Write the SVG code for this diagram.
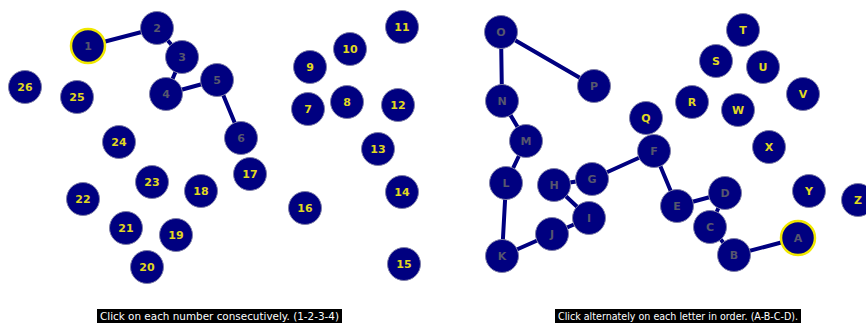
<svg xmlns="http://www.w3.org/2000/svg" width="866" height="323" viewBox="0 0 866 323">
<style>
.n circle{fill:#000080;stroke:#8080a8;stroke-width:1}
.n text{font-family:"DejaVu Sans",sans-serif;font-weight:bold;font-size:11px;text-anchor:middle;dominant-baseline:central;fill:#e0d820}
.v text{fill:#56566e}
.sel circle{stroke:#f0e800;stroke-width:2.5}
#edges line{stroke:#000080;stroke-width:4;stroke-linecap:round}
.cap rect{fill:#000}
.cap text{font-family:"DejaVu Sans",sans-serif;font-size:10px;fill:#fff}
</style>
<rect width="866" height="323" fill="#fff"/>
<g id="edges">
<line x1="88" y1="46" x2="157" y2="28"/>
<line x1="157" y1="28" x2="182" y2="57"/>
<line x1="182" y1="57" x2="166" y2="94"/>
<line x1="166" y1="94" x2="217" y2="80"/>
<line x1="217" y1="80" x2="241" y2="138"/>
<line x1="798" y1="238" x2="734" y2="255"/>
<line x1="734" y1="255" x2="710" y2="227"/>
<line x1="710" y1="227" x2="725" y2="193"/>
<line x1="725" y1="193" x2="677" y2="206"/>
<line x1="677" y1="206" x2="654" y2="151"/>
<line x1="654" y1="151" x2="592" y2="179"/>
<line x1="592" y1="179" x2="554" y2="185"/>
<line x1="554" y1="185" x2="589" y2="218"/>
<line x1="589" y1="218" x2="552" y2="234"/>
<line x1="552" y1="234" x2="502" y2="256"/>
<line x1="502" y1="256" x2="506" y2="183"/>
<line x1="506" y1="183" x2="526" y2="141"/>
<line x1="526" y1="141" x2="502" y2="101"/>
<line x1="502" y1="101" x2="501" y2="32"/>
<line x1="501" y1="32" x2="594" y2="86"/>
</g>
<g id="n1" class="n v sel"><circle cx="88" cy="46" r="17"/><text x="88" y="46">1</text></g>
<g id="n2" class="n v"><circle cx="157" cy="28" r="16.5"/><text x="157" y="28">2</text></g>
<g id="n3" class="n v"><circle cx="182" cy="57" r="16.5"/><text x="182" y="57">3</text></g>
<g id="n4" class="n v"><circle cx="166" cy="94" r="16.5"/><text x="166" y="94">4</text></g>
<g id="n5" class="n v"><circle cx="217" cy="80" r="16.5"/><text x="217" y="80">5</text></g>
<g id="n6" class="n v"><circle cx="241" cy="138" r="16.5"/><text x="241" y="138">6</text></g>
<g id="n7" class="n"><circle cx="308" cy="109" r="16.5"/><text x="308" y="109">7</text></g>
<g id="n8" class="n"><circle cx="347" cy="102" r="16.5"/><text x="347" y="102">8</text></g>
<g id="n9" class="n"><circle cx="310" cy="67" r="16.5"/><text x="310" y="67">9</text></g>
<g id="n10" class="n"><circle cx="350" cy="49" r="16.5"/><text x="350" y="49">10</text></g>
<g id="n11" class="n"><circle cx="402" cy="27" r="16.5"/><text x="402" y="27">11</text></g>
<g id="n12" class="n"><circle cx="398" cy="105" r="16.5"/><text x="398" y="105">12</text></g>
<g id="n13" class="n"><circle cx="378" cy="149" r="16.5"/><text x="378" y="149">13</text></g>
<g id="n14" class="n"><circle cx="402" cy="192" r="16.5"/><text x="402" y="192">14</text></g>
<g id="n15" class="n"><circle cx="404" cy="264" r="16.5"/><text x="404" y="264">15</text></g>
<g id="n16" class="n"><circle cx="305" cy="208" r="16.5"/><text x="305" y="208">16</text></g>
<g id="n17" class="n"><circle cx="250" cy="174" r="16.5"/><text x="250" y="174">17</text></g>
<g id="n18" class="n"><circle cx="201" cy="191" r="16.5"/><text x="201" y="191">18</text></g>
<g id="n19" class="n"><circle cx="176" cy="235" r="16.5"/><text x="176" y="235">19</text></g>
<g id="n20" class="n"><circle cx="147" cy="267" r="16.5"/><text x="147" y="267">20</text></g>
<g id="n21" class="n"><circle cx="126" cy="228" r="16.5"/><text x="126" y="228">21</text></g>
<g id="n22" class="n"><circle cx="83" cy="199" r="16.5"/><text x="83" y="199">22</text></g>
<g id="n23" class="n"><circle cx="152" cy="182" r="16.5"/><text x="152" y="182">23</text></g>
<g id="n24" class="n"><circle cx="119" cy="142" r="16.5"/><text x="119" y="142">24</text></g>
<g id="n25" class="n"><circle cx="77" cy="97" r="16.5"/><text x="77" y="97">25</text></g>
<g id="n26" class="n"><circle cx="25" cy="87" r="16.5"/><text x="25" y="87">26</text></g>
<g id="nA" class="n v sel"><circle cx="798" cy="238" r="17"/><text x="798" y="238">A</text></g>
<g id="nB" class="n v"><circle cx="734" cy="255" r="16.5"/><text x="734" y="255">B</text></g>
<g id="nC" class="n v"><circle cx="710" cy="227" r="16.5"/><text x="710" y="227">C</text></g>
<g id="nD" class="n v"><circle cx="725" cy="193" r="16.5"/><text x="725" y="193">D</text></g>
<g id="nE" class="n v"><circle cx="677" cy="206" r="16.5"/><text x="677" y="206">E</text></g>
<g id="nF" class="n v"><circle cx="654" cy="151" r="16.5"/><text x="654" y="151">F</text></g>
<g id="nG" class="n v"><circle cx="592" cy="179" r="16.5"/><text x="592" y="179">G</text></g>
<g id="nH" class="n v"><circle cx="554" cy="185" r="16.5"/><text x="554" y="185">H</text></g>
<g id="nI" class="n v"><circle cx="589" cy="218" r="16.5"/><text x="589" y="218">I</text></g>
<g id="nJ" class="n v"><circle cx="552" cy="234" r="16.5"/><text x="552" y="234">J</text></g>
<g id="nK" class="n v"><circle cx="502" cy="256" r="16.5"/><text x="502" y="256">K</text></g>
<g id="nL" class="n v"><circle cx="506" cy="183" r="16.5"/><text x="506" y="183">L</text></g>
<g id="nM" class="n v"><circle cx="526" cy="141" r="16.5"/><text x="526" y="141">M</text></g>
<g id="nN" class="n v"><circle cx="502" cy="101" r="16.5"/><text x="502" y="101">N</text></g>
<g id="nO" class="n v"><circle cx="501" cy="32" r="16.5"/><text x="501" y="32">O</text></g>
<g id="nP" class="n v"><circle cx="594" cy="86" r="16.5"/><text x="594" y="86">P</text></g>
<g id="nQ" class="n"><circle cx="646" cy="118" r="16.5"/><text x="646" y="118">Q</text></g>
<g id="nR" class="n"><circle cx="692" cy="102" r="16.5"/><text x="692" y="102">R</text></g>
<g id="nS" class="n"><circle cx="716" cy="61" r="16.5"/><text x="716" y="61">S</text></g>
<g id="nT" class="n"><circle cx="743" cy="30" r="16.5"/><text x="743" y="30">T</text></g>
<g id="nU" class="n"><circle cx="763" cy="67" r="16.5"/><text x="763" y="67">U</text></g>
<g id="nV" class="n"><circle cx="803" cy="94" r="16.5"/><text x="803" y="94">V</text></g>
<g id="nW" class="n"><circle cx="738" cy="110" r="16.5"/><text x="738" y="110">W</text></g>
<g id="nX" class="n"><circle cx="769" cy="147" r="16.5"/><text x="769" y="147">X</text></g>
<g id="nY" class="n"><circle cx="809" cy="191" r="16.5"/><text x="809" y="191">Y</text></g>
<g id="nZ" class="n"><circle cx="858" cy="200" r="16.5"/><text x="858" y="200">Z</text></g>
<g id="cap1" class="cap"><rect x="97" y="309" width="245" height="14"/><text x="100" y="320" textLength="239" lengthAdjust="spacingAndGlyphs">Click on each number consecutively. (1-2-3-4)</text></g>
<g id="cap2" class="cap"><rect x="555" y="309" width="246" height="14"/><text x="558" y="320" textLength="240" lengthAdjust="spacingAndGlyphs">Click alternately on each letter in order. (A-B-C-D).</text></g>
</svg>
